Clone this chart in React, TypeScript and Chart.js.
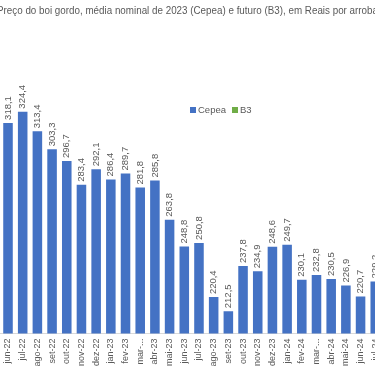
import React, { useEffect, useRef } from "react";
import { Chart, registerables } from "chart.js";

Chart.register(...registerables);

const TITLE = "Preço do boi gordo, média nominal de 2023 (Cepea) e futuro (B3), em Reais por arroba";

const months = [
  "jun-22", "jul-22", "ago-22", "set-22", "out-22", "nov-22", "dez-22",
  "jan-23", "fev-23", "mar-...", "abr-23", "mai-23", "jun-23", "jul-23",
  "ago-23", "set-23", "out-23", "nov-23", "dez-23", "jan-24", "fev-24",
  "mar-...", "abr-24", "mai-24", "jun-24", "jul-24",
];

const cepea = [
  318.1, 324.4, 313.4, 303.3, 296.7, 283.4, 292.1,
  286.4, 289.7, 281.8, 285.8, 263.8, 248.8, 250.8,
  220.4, 212.5, 237.8, 234.9, 248.6, 249.7, 230.1,
  232.8, 230.5, 226.9, 220.7, 229.2,
];

const b3: (number | null)[] = months.map(() => null);

const BLUE = "#4472C4";
const GREEN = "#70AD47";
const GRAY = "#595959";
const FONT = "'Liberation Sans', Arial, sans-serif";

const fmt = (v: number) => v.toFixed(1).replace(".", ",");

const decorPlugin = {
  id: "decor",
  afterDatasetsDraw(chart: any) {
    const ctx = chart.ctx;
    ctx.save();
    const meta = chart.getDatasetMeta(0);
    ctx.fillStyle = GRAY;
    ctx.font = `9.5px ${FONT}`;
    meta.data.forEach((bar: any, i: number) => {
      const v = chart.data.datasets[0].data[i];
      if (v == null) return;
      ctx.save();
      ctx.translate(bar.x, bar.y - 3);
      ctx.rotate(-Math.PI / 2);
      ctx.textAlign = "left";
      ctx.textBaseline = "middle";
      ctx.fillText(fmt(v), 0, 0);
      ctx.restore();
    });
    ctx.font = `11px ${FONT}`;
    ctx.textAlign = "center";
    ctx.textBaseline = "middle";
    ctx.fillStyle = GRAY;
    ctx.fillText(TITLE, 187.5, 11, 381);
    const items = [
      { label: "Cepea", color: BLUE, x: 190 },
      { label: "B3", color: GREEN, x: 232 },
    ];
    ctx.font = `9.5px ${FONT}`;
    ctx.textAlign = "left";
    items.forEach((it) => {
      ctx.fillStyle = it.color;
      ctx.fillRect(it.x, 107, 6, 6);
      ctx.fillStyle = GRAY;
      ctx.fillText(it.label, it.x + 8, 110.5);
    });
    ctx.restore();
  },
};

export default function App() {
  const ref = useRef<HTMLCanvasElement>(null);
  useEffect(() => {
    if (!ref.current) return;
    const chart = new Chart(ref.current, {
      type: "bar",
      data: {
        labels: months,
        datasets: [
          { label: "Cepea", data: cepea, backgroundColor: BLUE, grouped: false, categoryPercentage: 1, barPercentage: 0.65 } as any,
          { label: "B3", data: b3, backgroundColor: GREEN, grouped: false, categoryPercentage: 1, barPercentage: 0.65 } as any,
        ],
      },
      options: {
        responsive: false,
        animation: false,
        devicePixelRatio: 1,
        layout: { padding: { top: 66, left: 0.66, right: 0.4, bottom: 0 } },
        plugins: { legend: { display: false }, title: { display: false }, tooltip: { enabled: false } },
        scales: {
          x: {
            grid: { display: false, drawTicks: false, tickLength: 0 },
            border: { display: true, color: "#D9D9D9" },
            ticks: {
              color: GRAY,
              font: { family: FONT, size: 9 },
              minRotation: 90,
              maxRotation: 90,
              autoSkip: false,
              padding: 5,
            },
            afterFit: (scale: any) => {
              scale.height = 32.5;
              scale.paddingLeft = 0;
              scale.paddingRight = 0;
            },
          } as any,
          y: { display: false, min: 200, max: 350 },
        },
      },
      plugins: [decorPlugin],
    });
    return () => chart.destroy();
  }, []);
  return (
    <div style={{ position: "fixed", left: 0, top: 0, width: 375, height: 366, overflow: "hidden", background: "#fff" }}>
      <canvas ref={ref} width={383} height={366} style={{ display: "block" }} />
    </div>
  );
}
